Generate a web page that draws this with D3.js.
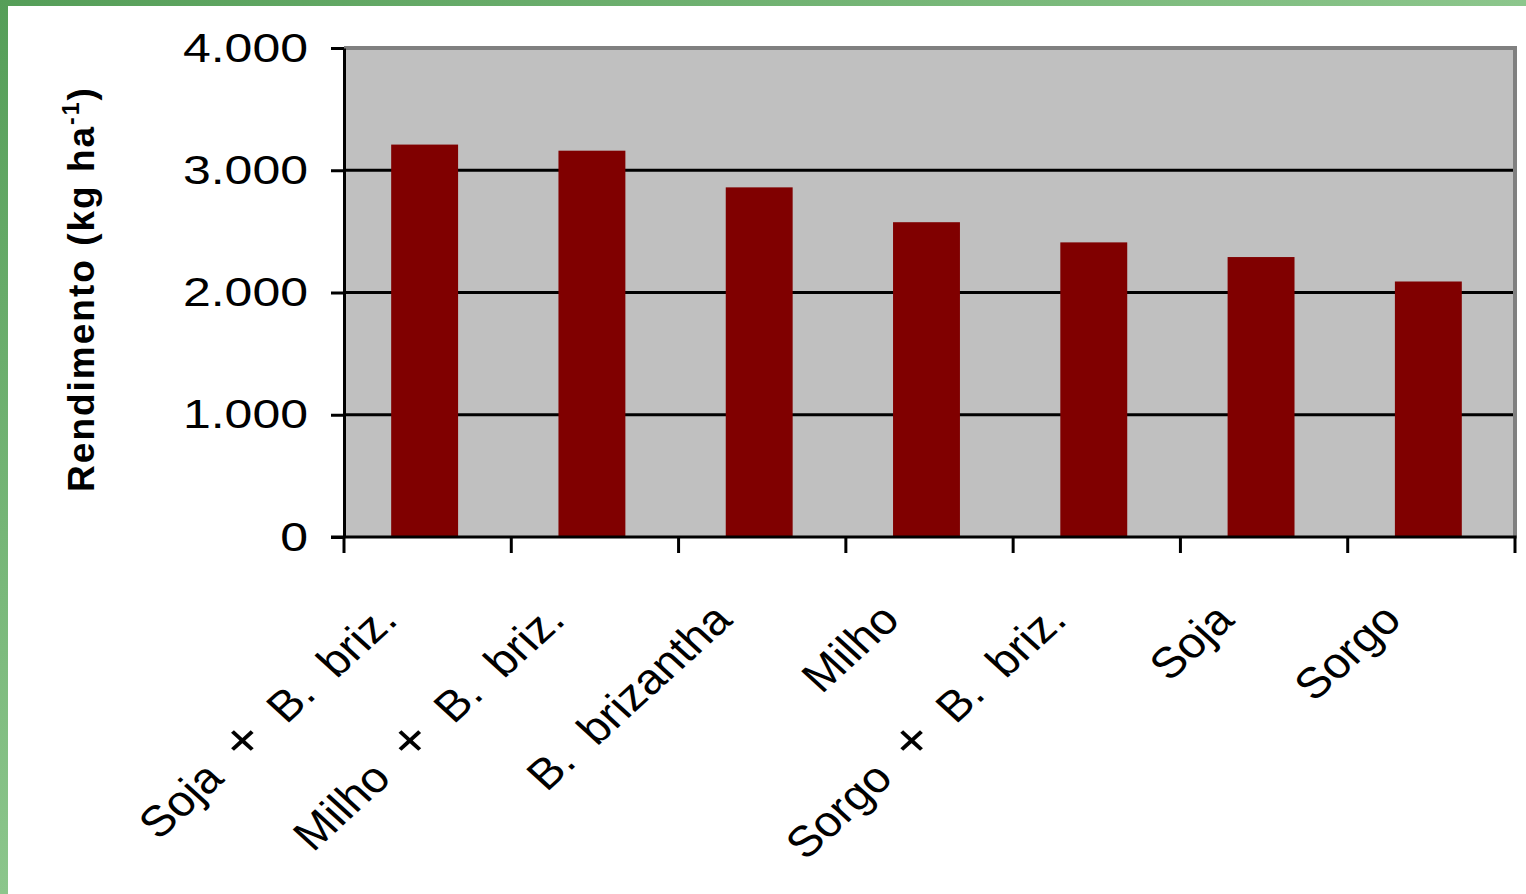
<!DOCTYPE html>
<html><head><meta charset="utf-8">
<script src="https://cdn.jsdelivr.net/npm/d3@7"></script>
<style>html,body{margin:0;padding:0;background:#fff;overflow:hidden;} svg{display:block;font-family:"Liberation Sans",Arial,sans-serif;}</style>
</head><body><svg id="c" width="1526" height="894"></svg>
<script>
const categories = ["Soja + B. briz.", "Milho + B. briz.", "B. brizantha", "Milho", "Sorgo + B. briz.", "Soja", "Sorgo"];
const values = [3210, 3160, 2860, 2575, 2410, 2290, 2090];
const yTickValues = [0, 1000, 2000, 3000, 4000];
const yTickLabels = ["0", "1.000", "2.000", "3.000", "4.000"];
const yTitleMain = "Rendimento (kg ha";
const yTitleSup = "-1";
const yTitleEnd = ")";

const W = 1526, H = 894;
const plot = {left: 344, right: 1515, top: 48, bottom: 537};
const svg = d3.select("#c");

// green frame gradient
const defs = svg.append("defs");
const g = defs.append("linearGradient").attr("id", "fr").attr("gradientUnits", "userSpaceOnUse")
  .attr("x1", 0).attr("y1", 0).attr("x2", 390).attr("y2", 666);
g.append("stop").attr("offset", 0).attr("stop-color", "#559e58");
g.append("stop").attr("offset", 1).attr("stop-color", "#8cc68c");
svg.append("rect").attr("width", W).attr("height", H).attr("fill", "url(#fr)");
svg.append("rect").attr("x", 8).attr("y", 6).attr("width", W - 8).attr("height", H - 6).attr("fill", "#fff");

const x = d3.scaleBand().domain(categories).range([plot.left, plot.right])
  .paddingInner(0.6).paddingOuter(0.3).align(0.47);
const y = d3.scaleLinear().domain([0, 4000]).range([plot.bottom, plot.top]);

// plot background
svg.append("rect").attr("x", plot.left).attr("y", plot.top)
  .attr("width", plot.right - plot.left).attr("height", plot.bottom - plot.top).attr("fill", "#c0c0c0");
// top/right border
svg.append("line").attr("x1", plot.left).attr("x2", plot.right + 2).attr("y1", plot.top).attr("y2", plot.top)
  .attr("stroke", "#808080").attr("stroke-width", 4);
svg.append("line").attr("x1", plot.right).attr("x2", plot.right).attr("y1", plot.top - 2).attr("y2", plot.bottom)
  .attr("stroke", "#808080").attr("stroke-width", 4);

// gridlines
svg.append("g").selectAll("line").data(yTickValues.filter(d => d > 0 && d < 4000)).join("line")
  .attr("x1", plot.left).attr("x2", plot.right - 2)
  .attr("y1", d => y(d)).attr("y2", d => y(d))
  .attr("stroke", "#000").attr("stroke-width", 3);

// bars
svg.append("g").selectAll("rect").data(values).join("rect")
  .attr("x", (d, i) => x(categories[i]))
  .attr("width", x.bandwidth())
  .attr("y", d => y(d))
  .attr("height", d => y(0) - y(d))
  .attr("fill", "#800000");

// y axis
const yAxis = svg.append("g").attr("transform", `translate(${plot.left},0)`)
  .call(d3.axisLeft(y).tickValues(yTickValues).tickSize(13).tickSizeOuter(0)
    .tickFormat((d, i) => yTickLabels[i]));
yAxis.select(".domain").attr("stroke", "#000").attr("stroke-width", 3);
yAxis.selectAll(".tick line").attr("stroke", "#000").attr("stroke-width", 3);
yAxis.selectAll(".tick text")
  .attr("x", null).attr("dy", "0.33em")
  .attr("transform", "translate(-36,0) scale(1.25,1)")
  .attr("font-size", 40).attr("fill", "#000").attr("font-family", "Liberation Sans, Arial, sans-serif");

// x axis line and ticks at category boundaries
const step = (plot.right - plot.left) / categories.length;
const bounds = d3.range(categories.length + 1).map(i => plot.left + i * step);
svg.append("line").attr("x1", plot.left - 13).attr("x2", plot.right + 1.5)
  .attr("y1", plot.bottom).attr("y2", plot.bottom).attr("stroke", "#000").attr("stroke-width", 3);
svg.append("g").selectAll("line").data(bounds).join("line")
  .attr("x1", d => d).attr("x2", d => d).attr("y1", plot.bottom).attr("y2", plot.bottom + 16)
  .attr("stroke", "#000").attr("stroke-width", 3);

// category labels (the "+" drawn a little larger, as in the original)
const labels = svg.append("g").selectAll("text").data(categories).join("text")
  .attr("transform", d => `translate(${x(d) + x.bandwidth() / 2 - 25},${622}) scale(1.1,1) rotate(-45)`)
  .attr("text-anchor", "end")
  .attr("font-size", 43)
  .attr("fill", "#000")
  .style("white-space", "pre");
labels.each(function(d) {
  const el = d3.select(this);
  const parts = d.split("+");
  parts.forEach((p, i) => {
    if (i > 0) el.append("tspan").attr("font-size", 52).text("+");
    el.append("tspan").text(p.replace(/ /g, "\u00a0\u00a0"));
  });
});

// y title
const t = svg.append("text")
  .attr("transform", `translate(94,${(85 + 493) / 2}) rotate(-90)`)
  .attr("text-anchor", "middle")
  .attr("font-size", 37).attr("font-weight", "bold").attr("fill", "#000")
  .attr("letter-spacing", 2);
t.append("tspan").text(yTitleMain);
t.append("tspan").attr("font-size", 23).attr("dy", -15).text(yTitleSup);
t.append("tspan").attr("dy", 15).text(yTitleEnd);
</script>
</body></html>
